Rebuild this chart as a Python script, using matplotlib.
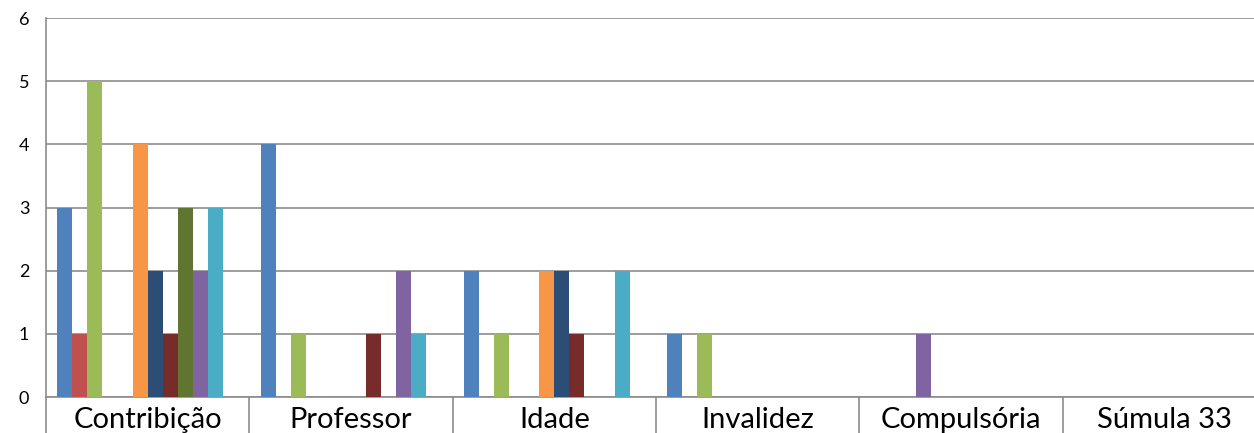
import matplotlib.pyplot as plt
import numpy as np

categories = ["Contribição", "Professor", "Idade", "Invalidez", "Compulsória", "Súmula 33"]

# one list per series, values per category (series names unknown, no legend)
s1 = [3, 4, 2, 1, 0, 0]
s2 = [1, 0, 0, 0, 0, 0]
s3 = [5, 1, 1, 1, 0, 0]
s4 = [0, 0, 0, 0, 1, 0]
s5 = [0, 0, 0, 0, 0, 0]
s6 = [4, 0, 2, 0, 0, 0]
s7 = [2, 0, 2, 0, 0, 0]
s8 = [1, 1, 1, 0, 0, 0]
s9 = [3, 0, 0, 0, 0, 0]
s10 = [2, 2, 0, 0, 0, 0]
s11 = [3, 1, 2, 0, 0, 0]
s12 = [0, 0, 0, 0, 0, 0]

series = [s1, s2, s3, s4, s5, s6, s7, s8, s9, s10, s11, s12]
colors = ['#4F81BD', '#C0504D', '#9BBB59', '#8064A2', '#4BACC6', '#F79646',
          '#2C4D75', '#772C2A', '#5F7530', '#8064A2', '#4BACC6', '#F79646']

plt.rcParams['font.family'] = ['Lato', 'DejaVu Sans']

fig = plt.figure(figsize=(12.54, 4.33), dpi=100)
W, H = 1254, 433
x0, x1 = 46, 1266
ytop, ybot = 18, 397
ax = fig.add_axes([x0 / W, (H - ybot) / H, (x1 - x0) / W, (ybot - ytop) / H])

n = len(series)
w = 1 / (n + 1.5)
x = np.arange(len(categories))
for i, (vals, c) in enumerate(zip(series, colors)):
    pos = x - 0.5 + 0.75 * w + (i + 0.5) * w
    ax.bar(pos, vals, width=w, color=c, zorder=3)

grid = '#8C8C8C'
ax.set_xlim(-0.5, len(categories) - 0.5)
ax.set_ylim(0, 6)
ax.set_yticks(range(0, 7))
ax.yaxis.grid(True, color=grid, linewidth=1.2, zorder=0)
ax.tick_params(axis='y', length=0, pad=12, labelsize=13)

ax.set_xticks(x)
ax.set_xticklabels(categories, fontsize=21)
ax.set_xticks(np.arange(len(categories) + 1) - 0.5, minor=True)
ax.tick_params(axis='x', which='major', length=0, pad=7)
ax.tick_params(axis='x', which='minor', length=27, width=1.2, color=grid, direction='out')

for s in ['top', 'right']:
    ax.spines[s].set_visible(False)
ax.spines['left'].set_color(grid)
ax.spines['left'].set_linewidth(1.2)
ax.spines['bottom'].set_color(grid)
ax.spines['bottom'].set_linewidth(1.2)

fig.savefig('out.png', dpi=100)
